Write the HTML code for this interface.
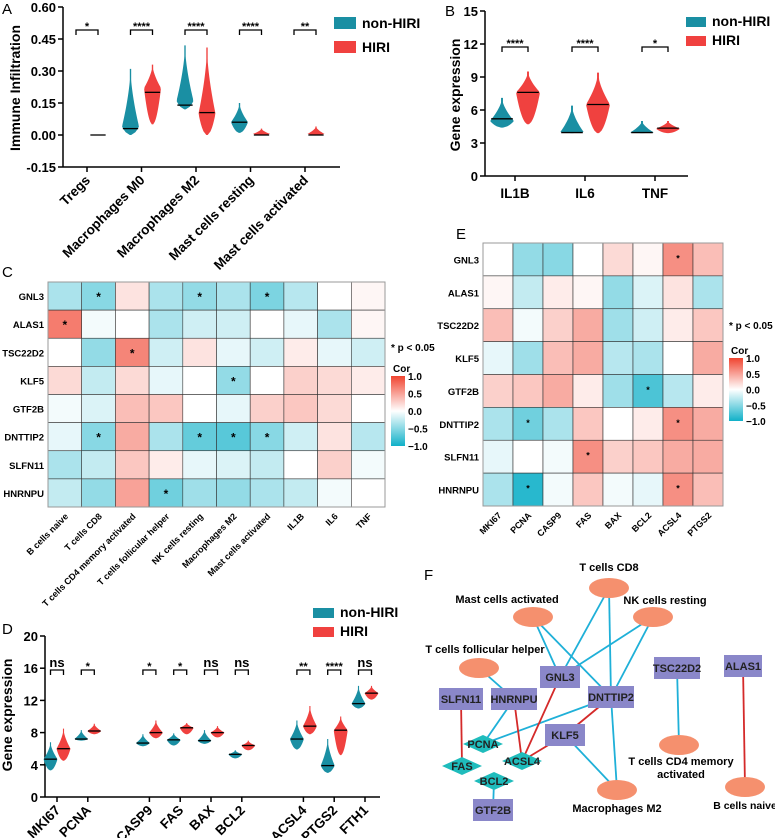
<!DOCTYPE html>
<html><head><meta charset="utf-8"><style>
body{margin:0;background:#fff}
svg{display:block;font-family:"Liberation Sans",Arial,sans-serif}
text{font-weight:bold}
</style></head><body>
<svg id="fig" width="775" height="838" viewBox="0 0 775 838" xmlns="http://www.w3.org/2000/svg">
<g id="pA"></g>
<g id="pB"></g>
<g id="pC"></g>
<g id="pD"></g>
<g id="pE"></g>
<g id="pF"></g>
</svg>
<script>
// ---- Panel A data ----
const aCats=["Tregs","Macrophages M0","Macrophages M2","Mast cells resting","Mast cells activated"];
const aSig=["*","****","****","****","**"];
const aTicks=[0.60,0.45,0.30,0.15,0.00,-0.15];
// [min, peak, median, max]
const aBlue=[[0,0,0,0],[0,0.04,0.03,0.31],[0.12,0.16,0.14,0.42],[0.01,0.06,0.06,0.15],[0,0,0,0]];
const aRed=[[0,0,0,0],[0.05,0.22,0.20,0.33],[0,0.1,0.105,0.41],[0,0.005,0,0.03],[0,0.005,0,0.04]];
// ---- Panel B data ----
const bCats=["IL1B","IL6","TNF"];
const bSig=["****","****","*"];
const bTicks=[15,12,9,6,3,0];
const bBlue=[[4.4,5.0,5.2,7.1],[3.9,3.95,3.95,6.4],[3.9,3.95,3.95,5.0]];
const bRed=[[4.7,7.6,7.6,9.5],[3.9,6.5,6.5,9.4],[3.9,4.3,4.35,5.0]];
// ---- Panel C data ----
const cRows=["GNL3","ALAS1","TSC22D2","KLF5","GTF2B","DNTTIP2","SLFN11","HNRNPU"];
const cCols=["B cells naive","T cells CD8","T cells CD4 memory activated","T cells follicular helper","NK cells resting","Macrophages M2","Mast cells activated","IL1B","IL6","TNF"];
const cVals=[
[-0.35,-0.5,0.15,-0.35,-0.45,-0.35,-0.55,-0.3,0,0.05],
[0.7,-0.05,0,-0.35,-0.2,-0.2,0,-0.1,-0.35,0.05],
[0,-0.45,0.65,-0.2,0.15,-0.1,-0.2,0.1,-0.1,-0.2],
[0.2,-0.25,0.2,-0.1,0,-0.45,0,0.25,0.2,0.1],
[-0.05,-0.15,0.35,0.3,0,-0.1,0.25,0.3,0.2,0],
[-0.1,-0.5,0.45,-0.35,-0.65,-0.7,-0.5,-0.2,0.15,-0.3],
[-0.35,-0.25,0.3,0.1,-0.1,-0.15,-0.25,0,0.25,-0.05],
[-0.25,-0.45,0.5,-0.6,-0.4,-0.45,-0.35,-0.25,-0.05,0]];
const cStars=[[0,1,0,0,1,0,1,0,0,0],[1,0,0,0,0,0,0,0,0,0],[0,0,1,0,0,0,0,0,0,0],[0,0,0,0,0,1,0,0,0,0],[0,0,0,0,0,0,0,0,0,0],[0,1,0,0,1,1,1,0,0,0],[0,0,0,0,0,0,0,0,0,0],[0,0,0,1,0,0,0,0,0,0]];
// ---- Panel D data ----
const dCats=["MKI67","PCNA","CASP9","FAS","BAX","BCL2","ACSL4","PTGS2","FTH1"];
const dSig=["ns","*","*","*","ns","ns","**","****","ns"];
const dTicks=[20,16,12,8,4,0];
const dPos=[0,1,3,4,5,6,8,9,10];
const dBlue=[[3.3,4.7,4.7,6.8],[7.0,7.2,7.2,8.3],[6.3,6.7,6.7,7.8],[6.4,7.1,7.1,7.9],[6.6,7.0,7.0,8.3],[4.8,5.3,5.3,5.8],[5.9,7.2,7.2,9.5],[3.0,3.9,3.9,7.2],[11.0,11.6,11.6,13.8]];
const dRed=[[4.5,6.0,6.0,8.5],[7.8,8.2,8.2,9.1],[7.3,8.0,8.0,9.5],[7.8,8.6,8.6,9.2],[7.4,8.0,8.0,8.8],[5.8,6.4,6.4,7.0],[7.8,8.8,8.8,11.3],[5.2,8.3,8.3,10.0],[12.1,12.9,12.9,13.8]];
// ---- Panel E data ----
const eRows=["GNL3","ALAS1","TSC22D2","KLF5","GTF2B","DNTTIP2","SLFN11","HNRNPU"];
const eCols=["MKI67","PCNA","CASP9","FAS","BAX","BCL2","ACSL4","PTGS2"];
const eVals=[
[0,-0.45,-0.5,0,0.2,0.05,0.6,0.35],
[0.05,-0.25,0.1,0.05,-0.45,-0.15,0.15,-0.35],
[0.35,-0.05,0.25,0.45,-0.4,-0.2,0.1,0.3],
[-0.1,-0.4,0.35,0.45,-0.3,-0.35,0,0.45],
[0.25,0.3,0.45,0.1,-0.4,-0.75,-0.3,0.1],
[-0.35,-0.6,-0.35,0.3,0,0.1,0.6,0.45],
[-0.1,0,-0.05,0.6,0.25,0.3,0.45,0.45],
[-0.35,-0.9,-0.05,0.3,-0.05,-0.1,0.6,0.35]];
const eStars=[[0,0,0,0,0,0,1,0],[0,0,0,0,0,0,0,0],[0,0,0,0,0,0,0,0],[0,0,0,0,0,0,0,0],[0,0,0,0,0,1,0,0],[0,1,0,0,0,0,1,0],[0,0,0,1,0,0,0,0],[0,1,0,0,0,0,1,0]];
// ---- Panel F data ----
const fCells=[["T cells CD8",609,588],["Mast cells activated",533,617],["NK cells resting",653,617],["T cells follicular helper",479,668],["T cells CD4 memory activated",679,745],["Macrophages M2",617,790],["B cells naive",745,787]];
const fGenes=[["GNL3",560,677,40],["HNRNPU",514,699,46],["SLFN11",461,699,44],["DNTTIP2",611,697,46],["KLF5",565,735,40],["TSC22D2",677,668,46],["ALAS1",743,666,38],["GTF2B",493,810,40]];
const fTargets=[["PCNA",483,744],["FAS",462,766],["ACSL4",522,761],["BCL2",494,781]];
const fEdgesNeg=[["T cells CD8","GNL3"],["T cells CD8","DNTTIP2"],["Mast cells activated","GNL3"],["Mast cells activated","DNTTIP2"],["NK cells resting","GNL3"],["NK cells resting","DNTTIP2"],["T cells follicular helper","HNRNPU"],["HNRNPU","PCNA"],["DNTTIP2","PCNA"],["DNTTIP2","Macrophages M2"],["KLF5","Macrophages M2"],["TSC22D2","T cells CD4 memory activated"],["BCL2","GTF2B"]];
const fEdgesPos=[["GNL3","ACSL4"],["HNRNPU","ACSL4"],["DNTTIP2","KLF5"],["KLF5","ACSL4"],["SLFN11","FAS"],["ALAS1","B cells naive"]];

const NS="http://www.w3.org/2000/svg";
const BLUE="#1a8fa3",RED="#f0413f";
function mk(parent,tag,attrs,txt){const e=document.createElementNS(NS,tag);for(const k in attrs)e.setAttribute(k,attrs[k]);if(txt!==undefined)e.textContent=txt;parent.appendChild(e);return e;}
function lin(d0,d1,r0,r1){return v=>r0+(v-d0)*(r1-r0)/(d1-d0);}
function violinPath(cx,hw,y,s){const [mn,pk,md,mx]=s;const L=[],R=[];const N=24;
 for(let i=0;i<=N;i++){const v=mn+(mx-mn)*i/N;let f;
  if(mx===mn)f=1;else if(v<=pk)f=pk===mn?1:Math.pow((v-mn)/(pk-mn),0.5);else f=Math.pow(1-(v-pk)/(mx-pk),1.6);
  f=Math.max(f,0.08);R.push([cx+hw*f,y(v)]);L.push([cx-hw*f,y(v)]);}
 if(mx===mn)return "";
 return "M"+R.map(p=>p.join(",")).join("L")+"L"+L.reverse().map(p=>p.join(",")).join("L")+"Z";}
function legend(g,x,y1,y2,w,h,fs){
 const a=mk(g,"rect",{x:x,y:y1,width:w,height:h,fill:BLUE});
 const t=mk(g,"text",{x:x+w+6,y:y1+h-1,"font-size":fs},"non-HIRI");
 const b=mk(g,"rect",{x:x,y:y2,width:w,height:h,fill:RED});
 const u=mk(g,"text",{x:x+w+6,y:y2+h-1,"font-size":fs},"HIRI");}
function violinChart(g,o){
 const y=lin(o.t[o.t.length-1],o.t[0],o.y0,o.y1);
 mk(g,"line",{x1:o.ax,y1:o.y1,x2:o.ax,y2:o.y0,stroke:"#000","stroke-width":1.5});
 const xb=o.xb!==undefined?o.xb:o.y0;
 mk(g,"line",{x1:o.ax,y1:xb,x2:o.axEnd,y2:xb,stroke:"#000","stroke-width":1.5});
 o.t.forEach(v=>{mk(g,"line",{x1:o.ax-5,y1:y(v),x2:o.ax,y2:y(v),stroke:"#000","stroke-width":1.5});
  const t=mk(g,"text",{x:o.ax-7,y:y(v)+5,"text-anchor":"end","font-size":o.fs},o.fmt(v));});
 o.cats.forEach((c,i)=>{const cx=o.cx(i);
  mk(g,"line",{x1:cx,y1:xb,x2:cx,y2:xb+5,stroke:"#000","stroke-width":1.5});
  const bx=cx-o.off,rx=cx+o.off;
  [[o.blue[i],bx,BLUE,"blue"],[o.red[i],rx,RED,"red"]].forEach(([s,px,col,nm])=>{
   const p=violinPath(px,o.hw,y,s);
   if(p){const e=mk(g,"path",{d:p,fill:col});}
   if(s[3]>s[0]||nm==="red"||o.flatBlue){const m=mk(g,"line",{x1:px-o.hw*0.9,y1:y(s[2]),x2:px+o.hw*0.9,y2:y(s[2]),stroke:"#000","stroke-width":1.3});}});
  const by=o.by;
  mk(g,"path",{d:`M${bx},${by+5}V${by}H${rx}V${by+5}`,fill:"none",stroke:"#000","stroke-width":1.3});
  const st=mk(g,"text",{x:cx,y:by-3+(o.sig[i]==="ns"?0:3),"text-anchor":"middle","font-size":o.sig[i]==="ns"?13:11},o.sig[i]);
  let lt;
  if(o.rot){lt=mk(g,"text",{x:cx+4,y:xb+14,"text-anchor":"end","font-size":o.lfs,transform:`rotate(-45 ${cx+4} ${xb+14})`},c);}
  else{lt=mk(g,"text",{x:cx,y:xb+22,"text-anchor":"middle","font-size":o.lfs},c);}
  });
}
// Panel A
const gA=document.getElementById("pA");
mk(gA,"text",{x:2,y:14,"font-size":15,style:"font-weight:normal"},"A");
violinChart(gA,{ax:63,axEnd:340,y0:167,y1:7,xb:167,t:aTicks,fs:13,fmt:v=>v.toFixed(2),cats:aCats,cx:i=>87+i*54.5,off:11,hw:8.5,blue:aBlue,red:aRed,sig:aSig,by:30,rot:true,lfs:13.5});
{const t=mk(gA,"text",{x:20,y:88,"text-anchor":"middle","font-size":14,transform:"rotate(-90 20 88)"},"Immune Infiltration");}
legend(gA,334,17,41,22,12,14);
// Panel B
const gB=document.getElementById("pB");
mk(gB,"text",{x:445,y:16,"font-size":15,style:"font-weight:normal"},"B");
violinChart(gB,{ax:485,axEnd:688,y0:176,y1:11,t:bTicks,fs:13,fmt:v=>String(v),cats:bCats,cx:i=>515+i*70,off:13,hw:12,blue:bBlue,red:bRed,sig:bSig,by:47,rot:false,lfs:13.5,flatBlue:true});
{const t=mk(gB,"text",{x:460,y:95,"text-anchor":"middle","font-size":14,transform:"rotate(-90 460 95)"},"Gene expression");}
legend(gB,686,17,36,20,10,14);
// Panel D
const gD=document.getElementById("pD");
mk(gD,"text",{x:2,y:634,"font-size":15,style:"font-weight:normal"},"D");
violinChart(gD,{ax:45,axEnd:380,y0:797,y1:636,t:dTicks,fs:13,fmt:v=>String(v),cats:dCats,cx:i=>57+dPos[i]*30.8,off:6.5,hw:7,blue:dBlue,red:dRed,sig:dSig,by:670,rot:true,lfs:13.5});
{const t=mk(gD,"text",{x:12,y:715,"text-anchor":"middle","font-size":14,transform:"rotate(-90 12 715)"},"Gene expression");}
legend(gD,313,608,627,21,10,14);
// heatmap
function col(v){const w=[255,255,255],n=[16,176,200],p=[240,68,48];const c=v<0?n:p,a=Math.min(1,Math.abs(v));
 return `rgb(${w.map((x,i)=>Math.round(x+(c[i]-x)*a)).join(",")})`;}
function heat(g,o){
 const cw=(o.x1-o.x0)/o.cols.length,rh=(o.y1-o.y0)/o.rows.length;
 o.vals.forEach((row,r)=>row.forEach((v,c)=>{
  const e=mk(g,"rect",{x:o.x0+c*cw,y:o.y0+r*rh,width:cw,height:rh,fill:col(v),stroke:"#333","stroke-width":0.6});
  
  if(o.stars[r][c]){const s=mk(g,"text",{x:o.x0+(c+0.5)*cw,y:o.y0+(r+0.5)*rh+(o.dot?2:5),"text-anchor":"middle","font-size":o.dot?9:12},"*");}}));
 mk(g,"rect",{x:o.x0,y:o.y0,width:o.x1-o.x0,height:o.y1-o.y0,fill:"none",stroke:"#999","stroke-width":1});
 o.rows.forEach((n,r)=>{const t=mk(g,"text",{x:o.x0-4,y:o.y0+(r+0.5)*rh+4,"text-anchor":"end","font-size":o.fs},n);});
 o.cols.forEach((n,c)=>{const x=o.x0+(c+0.5)*cw+4,y=o.y1+10;const t=mk(g,"text",{x:x,y:y,"text-anchor":"end","font-size":o.fs-0.5,transform:`rotate(-45 ${x} ${y})`},n);});
 const L=o.leg;
 const p=mk(g,"text",{x:L.x,y:L.py,"font-size":10},"* p < 0.05");
 mk(g,"text",{x:L.x+2,y:L.cy,"font-size":10},"Cor");
 const id="grad"+o.id;const d=mk(g,"defs",{});const lg=mk(d,"linearGradient",{id:id,x1:0,y1:0,x2:0,y2:1});
 [1,0.5,0,-0.5,-1].forEach((v,i)=>mk(lg,"stop",{offset:i*25+"%","stop-color":col(v)}));
 const cb=mk(g,"rect",{x:L.x,y:L.t,width:14,height:L.b-L.t,fill:`url(#${id})`});
 ["1.0","0.5","0.0","\u22120.5","\u22121.0"].forEach((s,i)=>{mk(g,"text",{x:L.x+17,y:L.t+i*(L.b-L.t)/4+4,"font-size":10},s);});
}
const gC=document.getElementById("pC");
mk(gC,"text",{x:2,y:277,"font-size":15,style:"font-weight:normal"},"C");
heat(gC,{id:"C",x0:48,x1:385,y0:282,y1:507,rows:cRows,cols:cCols,vals:cVals,stars:cStars,fs:9.5,leg:{x:391,py:351,cy:372,t:376,b:446}});
const gE=document.getElementById("pE");
mk(gE,"text",{x:456,y:239,"font-size":15,style:"font-weight:normal"},"E");
heat(gE,{id:"E",x0:483,x1:723,y0:243,y1:506,rows:eRows,cols:eCols,vals:eVals,stars:eStars,fs:9.5,dot:true,leg:{x:729,py:329,cy:354,t:358,b:421}});
// Panel F
const gF=document.getElementById("pF");
mk(gF,"text",{x:424,y:580,"font-size":15,style:"font-weight:normal"},"F");
const pos={};fCells.forEach(c=>pos[c[0]]=[c[1],c[2]]);fGenes.forEach(c=>pos[c[0]]=[c[1],c[2]]);fTargets.forEach(c=>pos[c[0]]=[c[1],c[2]]);
[[fEdgesNeg,"#1fb0d8","edge-negative"],[fEdgesPos,"#d42a2a","edge-positive"]].forEach(([arr,c,nm])=>arr.forEach(([a,b])=>{
 const e=mk(gF,"line",{x1:pos[a][0],y1:pos[a][1],x2:pos[b][0],y2:pos[b][1],stroke:c,"stroke-width":1.8});}));
const labOff={"T cells CD8":[0,-17],"Mast cells activated":[-26,-14],"NK cells resting":[12,-13],"T cells follicular helper":[6,-15],"Macrophages M2":[0,18],"B cells naive":[0,18]};
fCells.forEach(([n,x,y])=>{const e=mk(gF,"ellipse",{cx:x,cy:y,rx:20,ry:10,fill:"#f5906e"});
 if(n==="T cells CD4 memory activated"){mk(gF,"text",{x:x+2,y:y+20,"text-anchor":"middle","font-size":11},"T cells CD4 memory");mk(gF,"text",{x:x+2,y:y+33,"text-anchor":"middle","font-size":11},"activated");}
 else{const o=labOff[n];mk(gF,"text",{x:x+o[0],y:y+o[1]+(o[1]>0?4:0),"text-anchor":"middle","font-size":n==="B cells naive"?10.5:11},n);}});
fGenes.forEach(([n,x,y,w])=>{const e=mk(gF,"rect",{x:x-w/2,y:y-11,width:w,height:22,fill:"#8a87c9"});
 mk(gF,"text",{x:x,y:y+4,"text-anchor":"middle","font-size":11,fill:"#222"},n);});
fTargets.forEach(([n,x,y])=>{const e=mk(gF,"polygon",{points:`${x-20},${y} ${x},${y-9} ${x+20},${y} ${x},${y+9}`,fill:"#1fbcbc"});
 mk(gF,"text",{x:x,y:y+4,"text-anchor":"middle","font-size":11,fill:"#222"},n);});
</script>
</body></html>
